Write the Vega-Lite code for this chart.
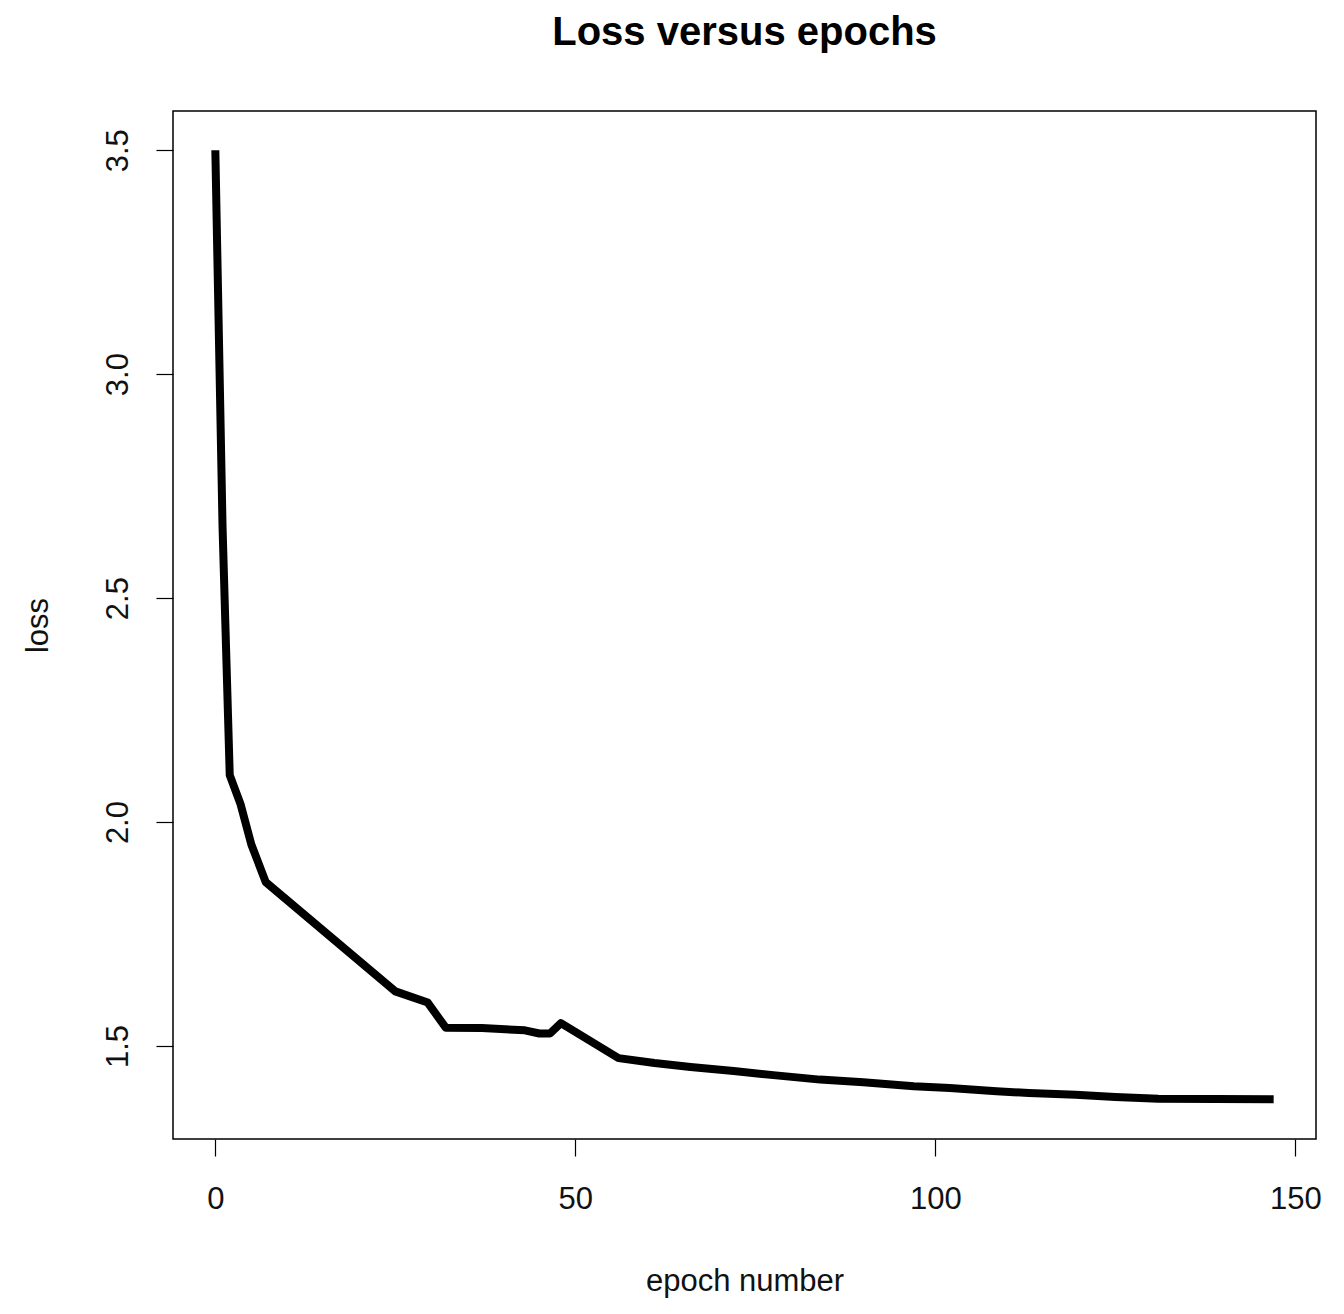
{
  "$schema": "https://vega.github.io/schema/vega-lite/v6.json",
  "width": 1143,
  "height": 1028,
  "autosize": "none",
  "padding": {"left": 173, "top": 111, "right": 28, "bottom": 175},
  "background": "white",
  "title": {
    "text": "Loss versus epochs",
    "font": "Liberation Sans",
    "fontSize": 40,
    "fontWeight": "bold",
    "color": "black",
    "anchor": "middle",
    "offset": 58
  },
  "config": {
    "view": {"stroke": "black", "strokeWidth": 1.5},
    "axis": {
      "grid": false,
      "domain": false,
      "tickColor": "black",
      "tickSize": 17,
      "tickWidth": 1.2,
      "labelFont": "Liberation Sans",
      "labelFontSize": 31,
      "labelColor": "#111",
      "titleFont": "Liberation Sans",
      "titleFontSize": 31,
      "titleFontWeight": "normal",
      "titleColor": "#111"
    }
  },
  "data": {
    "values": [
      {"epoch": 0, "loss": 3.5},
      {"epoch": 1, "loss": 2.66},
      {"epoch": 2, "loss": 2.105},
      {"epoch": 3.5, "loss": 2.04},
      {"epoch": 5, "loss": 1.95},
      {"epoch": 7, "loss": 1.866},
      {"epoch": 25, "loss": 1.622},
      {"epoch": 29.5, "loss": 1.597},
      {"epoch": 32, "loss": 1.541},
      {"epoch": 37, "loss": 1.54},
      {"epoch": 43, "loss": 1.535},
      {"epoch": 45, "loss": 1.528},
      {"epoch": 46.5, "loss": 1.528},
      {"epoch": 48, "loss": 1.551},
      {"epoch": 56, "loss": 1.473},
      {"epoch": 61, "loss": 1.462},
      {"epoch": 66, "loss": 1.453},
      {"epoch": 72, "loss": 1.444},
      {"epoch": 77.5, "loss": 1.435},
      {"epoch": 84, "loss": 1.425},
      {"epoch": 90, "loss": 1.419},
      {"epoch": 97, "loss": 1.41},
      {"epoch": 102, "loss": 1.406},
      {"epoch": 108.5, "loss": 1.399},
      {"epoch": 113, "loss": 1.395},
      {"epoch": 119.5, "loss": 1.391},
      {"epoch": 125, "loss": 1.386},
      {"epoch": 131, "loss": 1.382},
      {"epoch": 147, "loss": 1.381}
    ]
  },
  "mark": {"type": "line", "color": "black", "strokeWidth": 8, "strokeJoin": "round", "strokeCap": "butt"},
  "encoding": {
    "x": {
      "field": "epoch",
      "type": "quantitative",
      "scale": {"domain": [-5.88, 152.88], "nice": false, "zero": false},
      "axis": {"values": [0, 50, 100, 150], "title": "epoch number", "labelPadding": 28, "titlePadding": 52}
    },
    "y": {
      "field": "loss",
      "type": "quantitative",
      "scale": {"domain": [1.2924, 3.5876], "nice": false, "zero": false},
      "axis": {"values": [1.5, 2, 2.5, 3, 3.5], "format": ".1f", "title": "loss", "labelAngle": -90, "labelAlign": "center", "labelBaseline": "bottom", "labelPadding": 22, "titlePadding": 48}
    }
  }
}
